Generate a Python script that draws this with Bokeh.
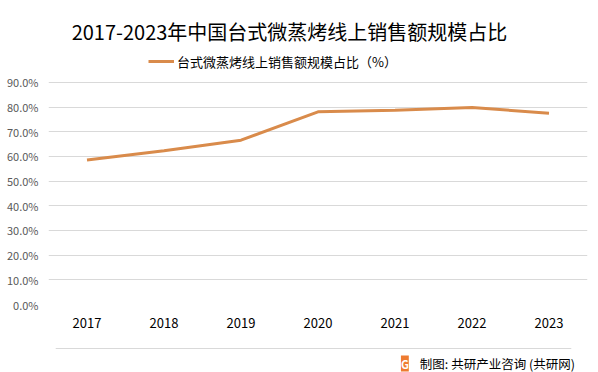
from bokeh.plotting import figure
from bokeh.layouts import column
from bokeh.models import (Range1d, NumeralTickFormatter, Label, Legend, LegendItem,
                          ColumnDataSource, BoxAnnotation)
from bokeh.embed import file_html
from bokeh.resources import INLINE

years = ["2017", "2018", "2019", "2020", "2021", "2022", "2023"]
share = [58.6, 62.3, 66.6, 78.1, 78.7, 79.9, 77.5]  # %
y_ticks = [0, 10, 20, 30, 40, 50, 60, 70, 80, 90]
title_text = "2017-2023年中国台式微蒸烤线上销售额规模占比"
series_name = "台式微蒸烤线上销售额规模占比（%）"
source_text = "制图: 共研产业咨询 (共研网)"

FONT = "Noto Sans CJK SC"
LINE_COLOR = "#d98b4b"

W, H = 598, 340
# frame spans the full height above the x axis; 0.9 sits 82px below the top
p = figure(width=W, height=H, x_range=years, y_range=Range1d(0, 1.2324),
           output_backend="svg", toolbar_location=None,
           min_border_left=48, min_border_right=11, min_border_top=0,
           min_border_bottom=36)
p.outline_line_color = None
p.background_fill_color = "white"
p.border_fill_color = "white"

src = ColumnDataSource(dict(x=years, y=[v / 100 for v in share]))
r = p.line("x", "y", source=src, line_color=LINE_COLOR, line_width=3)

p.yaxis.ticker = [v / 100 for v in y_ticks]
p.yaxis.formatter = NumeralTickFormatter(format="0.0%")
p.yaxis.axis_line_color = None
p.yaxis.major_tick_line_color = None
p.yaxis.minor_tick_line_color = None
p.yaxis.major_tick_out = 0
p.yaxis.minor_tick_out = 0
p.yaxis.major_label_text_font = FONT
p.yaxis.major_label_text_font_size = "11px"
p.yaxis.major_label_text_color = "#595959"
p.yaxis.major_label_standoff = 10

p.xaxis.axis_line_color = None
p.xaxis.major_tick_line_color = None
p.xaxis.major_tick_out = 0
p.xaxis.minor_tick_out = 0
p.xaxis.major_label_text_font = FONT
p.xaxis.major_label_text_font_size = "13px"
p.xaxis.major_label_text_color = "#000000"
p.xaxis.major_label_standoff = 13

p.xgrid.grid_line_color = None
p.ygrid.grid_line_color = "#d9d9d9"
p.ygrid.grid_line_width = 1

legend = Legend(items=[LegendItem(label=series_name, renderers=[r])],
                location=(100, 233), orientation="horizontal",
                label_text_font=FONT, label_text_font_size="13px",
                label_text_color="#000000", border_line_color=None,
                background_fill_alpha=0, glyph_width=26, label_standoff=3,
                padding=0, margin=0)
p.add_layout(legend, "center")

# title, positioned relative to the plot frame (origin bottom-left)
p.add_layout(Label(x=241, y=273, x_units="screen", y_units="screen",
                   text=title_text, text_font=FONT, text_font_size="20px",
                   text_color="#000000", text_align="center",
                   text_baseline="middle"))

# footer strip: separator line and source note
FH = 32
foot = figure(width=W, height=FH, x_range=Range1d(0, W), y_range=Range1d(0, FH),
              x_axis_type=None, y_axis_type=None, output_backend="svg",
              toolbar_location=None, min_border=0)
foot.outline_line_color = None
foot.xgrid.grid_line_color = None
foot.ygrid.grid_line_color = None
foot.background_fill_color = "white"
foot.border_fill_color = "white"

foot.add_layout(BoxAnnotation(left=8, right=580, bottom=23.5, top=24.5,
                              fill_color="#d9d9d9", fill_alpha=1,
                              line_color=None))
foot.add_layout(Label(x=412, y=9, text=source_text, text_font=FONT,
                      text_font_size="12.5px", text_color="#000000",
                      text_align="left", text_baseline="middle"))
foot.add_layout(Label(x=391, y=9, text="G", text_font=FONT,
                      text_font_size="11px", text_font_style="bold",
                      text_color="white", background_fill_color="#ee7b30",
                      text_align="left", text_baseline="middle"))

layout = column(p, foot, spacing=0)
open("out.html", "w").write(file_html(layout, INLINE))
